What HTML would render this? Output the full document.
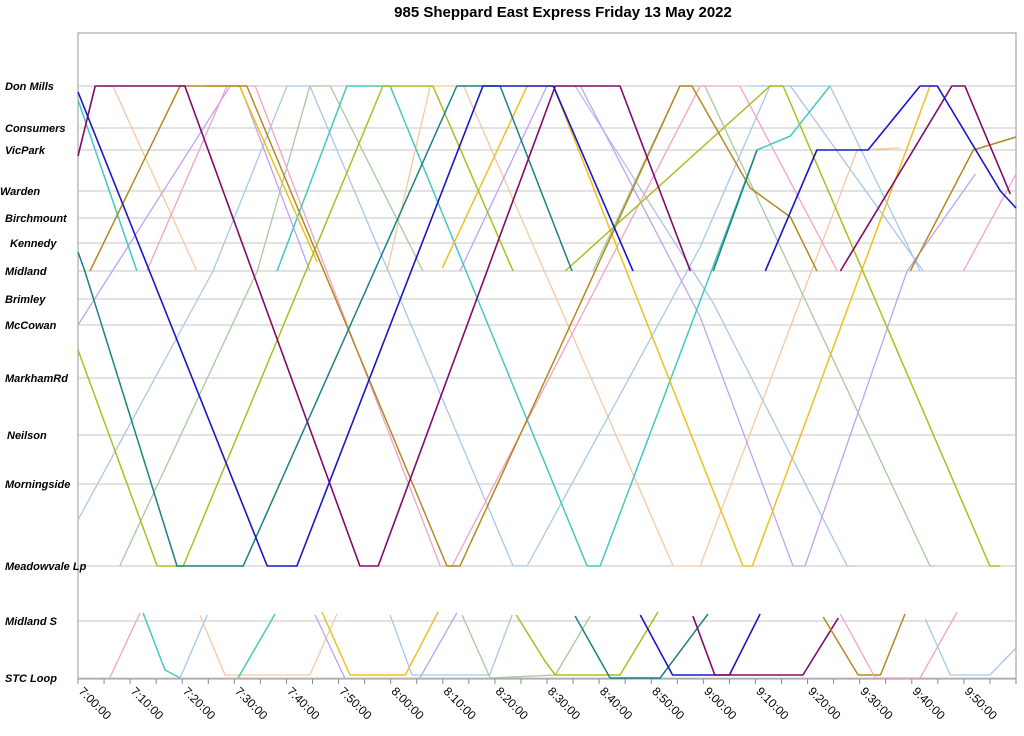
<!DOCTYPE html>
<html><head><meta charset="utf-8">
<style>
html,body{margin:0;padding:0;background:#fff;}
svg{display:block;font-family:"Liberation Sans",Arial,sans-serif;}
</style></head>
<body>
<svg id="chart" width="1024" height="736" viewBox="0 0 1024 736">
<text x="563" y="17" text-anchor="middle" font-size="15" font-weight="bold">985 Sheppard East Express Friday 13 May 2022</text>
<rect x="78" y="33" width="938" height="646" fill="none" stroke="#999" stroke-width="1"/>
<g id="grid"></g><g id="ylabels"></g><g id="xaxis"></g><g id="series"></g>
</svg>
<script>
// stops: names and distance units
const stopNames = ["Don Mills","Consumers","VicPark","Warden","Birchmount","Kennedy","Midland","Brimley","McCowan","MarkhamRd","Neilson","Morningside","Meadowvale Lp","Midland S","STC Loop"];
const stopKeys = ["DM","CO","VP","WA","BI","KE","MI","BR","MC","MR","NE","MO","MV","MS","STC"];
const stopDist = [0,42,64,105,132,157,185,213,239,292,349,398,480,535,592];
const stopLabelX = [5,5,5,0,5,10,5,5,5,5,7,5,5,5,5];
const tickLabels = ["7:00:00","7:10:00","7:20:00","7:30:00","7:40:00","7:50:00","8:00:00","8:10:00","8:20:00","8:30:00","8:40:00","8:50:00","9:00:00","9:10:00","9:20:00","9:30:00","9:40:00","9:50:00"];
const tickMinutes = [0,10,20,30,40,50,60,70,80,90,100,110,120,130,140,150,160,170];

// vehicle traces: [minutes after 7:00, stop key or distance]
const blue1 = [[0,6],[36.3,"MV"],[42,"MV"],[77.7,"DM"],[91.2,"DM"],[106.5,"MI"]];
const blue2 = [[131.9,"MI"],[141.8,"VP"],[151.6,"VP"],[161.6,"DM"],[164.9,"DM"],[177,"WA"],[180,122]];
const purple1 = [[0,70],[3.3,"DM"],[20.5,"DM"],[54.1,"MV"],[57.6,"MV"],[91.6,"DM"],[104,"DM"],[117.5,"MI"]];
const purple2 = [[146.3,"MI"],[167.7,"DM"],[170.2,"DM"],[178.9,108]];
const teal1 = [[0,166],[1.3,"MI"],[19,"MV"],[31.7,"MV"],[72.7,"DM"],[81,"DM"],[94.8,"MI"]];
const teal2 = [[121.9,"MI"],[130.3,"VP"]];
const cyan1 = [[0,14],[11.3,"MI"]];
const cyan2 = [[38.2,"MI"],[51.6,"DM"],[59.9,"DM"],[97.7,"MV"],[100.2,"MV"],[130.3,"VP"],[136.7,50],[144.3,"DM"]];
const lime1 = [[0,264],[15.2,"MV"],[20.2,"MV"],[58.5,"DM"],[68.1,"DM"],[83.5,"MI"]];
const lime2 = [[93.5,"MI"],[132.8,"DM"],[135.3,"DM"],[175,"MV"],[177,"MV"]];
const olive1 = [[2.3,"MI"],[19.6,"DM"],[32.4,"DM"],[70.8,"MV"],[73.3,"MV"],[115.5,"DM"],[117.8,"DM"],[124.6,62],[129,102],[136.7,131],[141.8,"MI"]];
const olive2 = [[159.7,"MI"],[171.8,"VP"],[180,51]];
const gold1 = [[24.4,"DM"],[31,"DM"],[45.9,176]];
const gold2 = [[69.9,182],[86.2,"DM"],[91.2,"DM"],[127.6,"MV"],[129.4,"MV"],[163.5,"DM"],[164.5,"DM"]];
const peach1 = [[4.2,"DM"],[6.7,"DM"],[22.8,"MI"]];
const peach2 = [[59.3,"MI"],[67.6,"DM"],[74,"DM"],[114.2,"MV"],[119.4,"MV"],[149.5,"VP"],[157.8,62]];
const lblue1 = [[0,434],[25.9,"MI"],[40.1,"DM"],[44.5,"DM"],[83.5,"MV"],[86.2,"MV"],[119.4,161],[132.8,"DM"],[144.3,"DM"],[161.6,"MI"]];
const lblue2 = [[95.4,"DM"],[121.9,217],[147.6,"MV"],[149.1,"MV"]];
const lblue3 = [[129,"DM"],[136.7,"DM"],[162.2,"MI"]];
const lav1 = [[0,"MC"],[29.2,"DM"],[31.1,"DM"],[44.5,"MI"]];
const lav2 = [[73.3,"MI"],[90,"DM"],[96.4,"DM"],[119.4,231],[137.2,"MV"],[139.5,"MV"],[159.1,"MI"],[172.2,88]];
const pink1 = [[13.2,"MI"],[28.6,"DM"],[34,"DM"],[69.5,"MV"],[71.8,"MV"],[119.4,"DM"],[127,"DM"],[145.7,"MI"]];
const pink2 = [[169.9,"MI"],[180,88]];
const sage1 = [[8,"MV"],[34.4,"MI"],[44.5,"DM"],[48.4,"DM"],[66.2,"MI"]];
const sage2 = [[98.8,"MI"],[115.5,"DM"],[120.3,"DM"],[163.5,"MV"],[164.5,"MV"]];
// Midland S <-> STC Loop shuttles (peaks slightly beyond Midland S)
const low1 = [[6.1,"STC"],[11.9,527]];
const low2 = [[12.5,527],[16.7,584],[19.6,"STC"]];
const low3 = [[19.6,"STC"],[24.8,529]];
const low4 = [[23.4,529],[28.2,589],[44.5,589],[49.7,528]];
const low5 = [[30.7,"STC"],[37.8,528]];
const low6 = [[45.5,529],[51.2,"STC"]];
const low7 = [[46.8,526],[52.2,589],[62.8,589],[69.1,526]];
const low8 = [[65.6,"STC"],[72.7,527]];
const low9 = [[59.9,529],[64.1,589],[79,589],[83.3,529]];
const low10 = [[73.7,529],[79.1,"STC"],[91.6,589],[98.3,530]];
const low11 = [[84.1,529],[89.6,575],[91.6,589],[104,589],[111.3,526]];
const low12 = [[95.4,530],[102.1,"STC"],[111.7,"STC"],[120.9,528]];
const low13 = [[107.9,529],[114.1,589],[125,589],[130.9,528]];
const low14 = [[118,530],[122.2,589],[139.1,589],[145.9,532]];
const low15 = [[143,531],[149.7,589],[154,589],[158.7,528]];
const low16 = [[146.3,528],[153,"STC"],[161.6,"STC"],[168.7,526]];
const low17 = [[162.6,533],[167.4,589],[175,589],[180,562]];

const C = {blue:"#1818c8",purple:"#820a6a",teal:"#1a8282",cyan:"#44c8c0",lime:"#a8c020",olive:"#b08a20",gold:"#f0c020",peach:"#f5c9a2",lblue:"#a6c8e8",lav:"#c2a2f0",pink:"#f2a2ca",sage:"#a8c8a0"};
const traces = [
 ["peach-1",peach1,C.peach,1.3],["peach-2",peach2,C.peach,1.3],
 ["light-blue-1",lblue1,C.lblue,1.3],["light-blue-2",lblue2,C.lblue,1.3],["light-blue-3",lblue3,C.lblue,1.3],
 ["sage-1",sage1,C.sage,1.3],["sage-2",sage2,C.sage,1.3],
 ["lavender-1",lav1,C.lav,1.3],["lavender-2",lav2,C.lav,1.3],
 ["pink-1",pink1,C.pink,1.3],["pink-2",pink2,C.pink,1.3],
 ["cyan-1",cyan1,C.cyan,1.5],["cyan-2",cyan2,C.cyan,1.5],
 ["gold-1",gold1,C.gold,1.5],["gold-2",gold2,C.gold,1.5],
 ["lime-1",lime1,C.lime,1.5],["lime-2",lime2,C.lime,1.5],
 ["olive-1",olive1,C.olive,1.5],["olive-2",olive2,C.olive,1.5],
 ["teal-1",teal1,C.teal,1.5],["teal-2",teal2,C.teal,1.5],
 ["purple-1",purple1,C.purple,1.6],["purple-2",purple2,C.purple,1.6],
 ["blue-1",blue1,C.blue,1.6],["blue-2",blue2,C.blue,1.6],
 ["shuttle-1",low1,C.pink,1.3],["shuttle-2",low2,C.cyan,1.5],["shuttle-3",low3,C.lblue,1.3],
 ["shuttle-4",low4,C.peach,1.3],["shuttle-5",low5,C.cyan,1.5],["shuttle-6",low6,C.lav,1.3],
 ["shuttle-7",low7,C.gold,1.5],["shuttle-8",low8,C.lav,1.3],["shuttle-9",low9,C.lblue,1.3],
 ["shuttle-10",low10,C.sage,1.3],["shuttle-11",low11,C.lime,1.5],["shuttle-12",low12,C.teal,1.5],
 ["shuttle-13",low13,C.blue,1.6],["shuttle-14",low14,C.purple,1.6],["shuttle-15",low15,C.olive,1.5],
 ["shuttle-16",low16,C.pink,1.3],["shuttle-17",low17,C.lblue,1.3]
];

const NS = "http://www.w3.org/2000/svg";
function xScale(m){ return 78 + m*(1016-78)/180; }
function yScale(d){ return 86 + d*(678-86)/592; }
function dist(v){ return typeof v === "number" ? v : stopDist[stopKeys.indexOf(v)]; }
function mk(tag, parent){ const e=document.createElementNS(NS,tag); parent.appendChild(e); return e; }

const grid=document.getElementById("grid"), yl=document.getElementById("ylabels");
stopNames.forEach((n,i)=>{
  const y=yScale(stopDist[i]);
  const l=mk("line",grid);
  
  
  l.setAttribute("x1",78);l.setAttribute("x2",1016);l.setAttribute("y1",y);l.setAttribute("y2",y);
  l.setAttribute("stroke","#c4c4c4");l.setAttribute("stroke-width","1");
  const t=mk("text",yl);
  
  
  t.setAttribute("x",stopLabelX[i]);t.setAttribute("y",y+4);
  t.setAttribute("font-size","11");t.setAttribute("font-weight","bold");t.setAttribute("font-style","italic");
  t.textContent=n;
});

const xa=document.getElementById("xaxis");
for(let m=0;m<=180;m+=5){
  const x=xScale(m);
  const tk=mk("line",xa);
  
  
  tk.setAttribute("x1",x);tk.setAttribute("x2",x);tk.setAttribute("y1",679);tk.setAttribute("y2",684);
  tk.setAttribute("stroke","#888");
}
tickLabels.forEach((s,i)=>{
  const x=xScale(tickMinutes[i]);
  const t=mk("text",xa);
  
  
  t.setAttribute("x",x);t.setAttribute("y",692);
  t.setAttribute("font-size","12");
  t.setAttribute("transform","rotate(45 "+x+" 692)");
  t.textContent=s;
});

const sg=document.getElementById("series");
traces.forEach(tr=>{
  const p=mk("polyline",sg);
  
  
  p.setAttribute("points",tr[1].map(pt=>xScale(pt[0]).toFixed(1)+","+yScale(dist(pt[1])).toFixed(1)).join(" "));
  p.setAttribute("fill","none");p.setAttribute("stroke",tr[2]);p.setAttribute("stroke-width",tr[3]);
  p.setAttribute("stroke-linejoin","round");
});
</script>
</body></html>
